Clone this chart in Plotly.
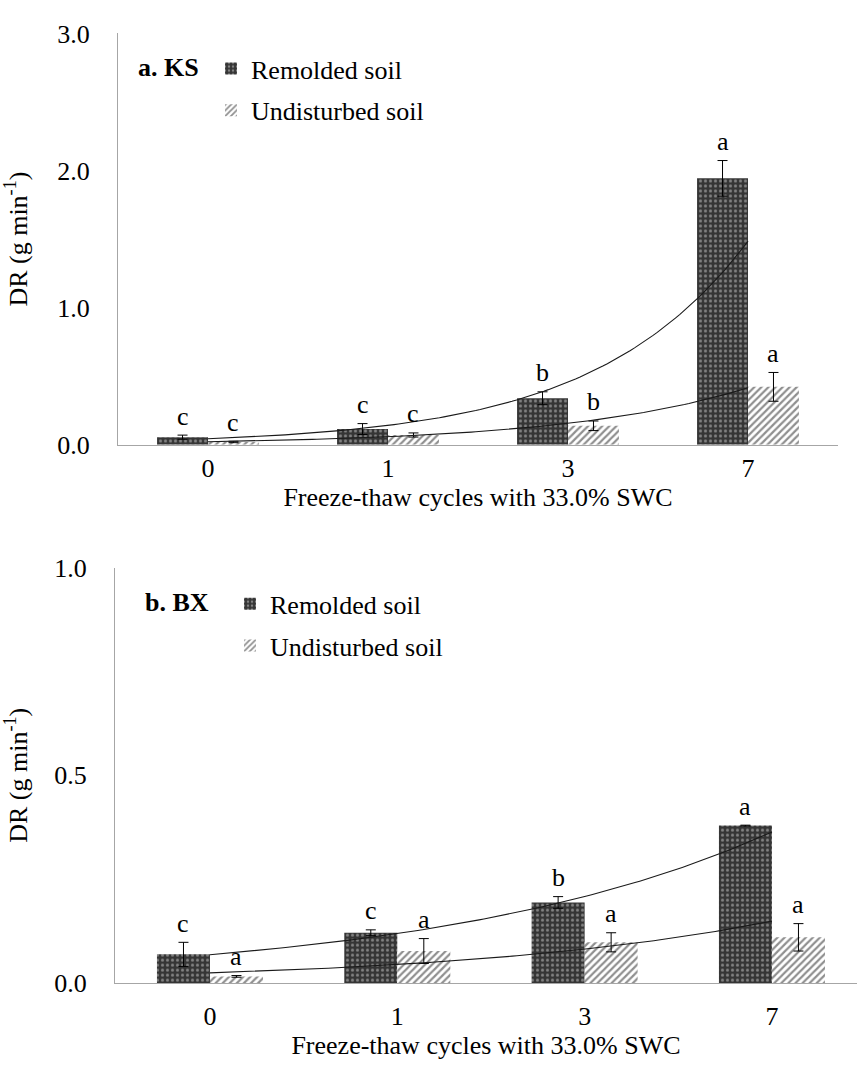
import numpy as np
import plotly.graph_objects as go

cycles = ["0", "1", "3", "7"]

# Panel a (KS)
ks_remolded = [0.055, 0.114, 0.339, 1.943]
ks_remolded_err = [0.015, 0.040, 0.047, 0.130]
ks_undisturbed = [0.020, 0.071, 0.138, 0.422]
ks_undisturbed_err = [0.005, 0.015, 0.035, 0.105]
ks_letters_rem = ["c", "c", "b", "a"]
ks_letters_und = ["c", "c", "b", "a"]

# Panel b (BX)
bx_remolded = [0.069, 0.121, 0.194, 0.379]
bx_remolded_err = [0.029, 0.007, 0.014, 0.001]
bx_undisturbed = [0.016, 0.077, 0.098, 0.110]
bx_undisturbed_err = [0.002, 0.030, 0.023, 0.033]
bx_letters_rem = ["c", "c", "b", "a"]
bx_letters_und = ["a", "a", "a", "a"]

FONT = "Liberation Serif"
FS = 26
pos = np.arange(len(cycles))
BAR_W = 0.283

rem_pattern = dict(shape=".", bgcolor="#353535", fgcolor="#cfcfcf", size=5, solidity=0.3)
und_pattern = dict(shape="/", bgcolor="white", fgcolor="#202020", size=5, solidity=0.45)

fig = go.Figure()


def exp_fit(vals):
    b, a = np.polyfit(pos, np.log(vals), 1)
    xs = np.linspace(pos[0], pos[-1], 120)
    return xs, np.exp(a + b * xs)


def add_panel(xa, ya, rem, rem_err, und, und_err, lg, tag):
    fig.add_trace(go.Bar(
        x=pos, y=rem, name="Remolded soil", xaxis=xa, yaxis=ya,
        marker=dict(color="#353535", pattern=rem_pattern, line=dict(width=0)),
        error_y=dict(type="data", array=rem_err, color="black", thickness=1, width=5),
        legend=lg, legendgroup=tag + "r", offsetgroup="r"))
    fig.add_trace(go.Bar(
        x=pos, y=und, name="Undisturbed soil", xaxis=xa, yaxis=ya,
        marker=dict(color="white", pattern=und_pattern, line=dict(width=0)),
        error_y=dict(type="data", array=und_err, color="black", thickness=1, width=5),
        legend=lg, legendgroup=tag + "u", offsetgroup="u"))
    for vals in (rem, und):
        xs, ys = exp_fit(vals)
        fig.add_trace(go.Scatter(x=xs, y=ys, mode="lines", xaxis=xa, yaxis=ya,
                                 line=dict(color="#1a1a1a", width=1.1),
                                 showlegend=False, hoverinfo="skip"))


add_panel("x", "y", ks_remolded, ks_remolded_err, ks_undisturbed, ks_undisturbed_err, "legend", "a")
add_panel("x2", "y2", bx_remolded, bx_remolded_err, bx_undisturbed, bx_undisturbed_err, "legend2", "b")

annotations = []


def add_letters(xref, yref, vals, errs, letters, shift):
    for p, v, e, t in zip(pos, vals, errs, letters):
        annotations.append(dict(x=p + shift, y=v + e, xref=xref, yref=yref, text=t,
                                showarrow=False, yshift=19, yanchor="middle", xanchor="center",
                                font=dict(family=FONT, size=FS, color="black")))


add_letters("x", "y", ks_remolded, ks_remolded_err, ks_letters_rem, -BAR_W / 2)
add_letters("x", "y", ks_undisturbed, ks_undisturbed_err, ks_letters_und, BAR_W / 2)
add_letters("x2", "y2", bx_remolded, bx_remolded_err, bx_letters_rem, -BAR_W / 2)
add_letters("x2", "y2", bx_undisturbed, bx_undisturbed_err, bx_letters_und, BAR_W / 2)

annotations.append(dict(x=168 / 857, y=1 - 55 / 1071, xref="paper", yref="paper", text="<b>a. KS</b>",
                        showarrow=False, xanchor="center", yanchor="middle",
                        font=dict(family=FONT, size=FS, color="black")))
annotations.append(dict(x=177 / 857, y=1 - 605 / 1071, xref="paper", yref="paper", text="<b>b. BX</b>",
                        showarrow=False, xanchor="center", yanchor="middle",
                        font=dict(family=FONT, size=FS, color="black")))

axis_font = dict(family=FONT, size=FS, color="black")
AX_LINE = "#a6a6a6"

xcommon = dict(tickmode="array", tickvals=pos, ticktext=cycles, showgrid=False, zeroline=False,
               showline=True, linecolor=AX_LINE, linewidth=1.3, ticks="", tickfont=axis_font)
ycommon = dict(showgrid=False, zeroline=False, showline=True, linecolor=AX_LINE, linewidth=1.3,
               ticks="", tickfont=axis_font, tickformat=".1f", ticklabelstandoff=22)

fig.update_layout(
    width=857, height=1071,
    margin=dict(l=0, r=0, t=0, b=0),
    paper_bgcolor="white", plot_bgcolor="white",
    barmode="group", bargap=0.434, bargroupgap=0,
    font=dict(family=FONT, size=FS, color="black"),
    xaxis=dict(xcommon, domain=[118 / 857, 838 / 857], range=[-0.5, 3.5], anchor="y",
               ticklabelstandoff=0,
               title=dict(text="Freeze-thaw cycles with 33.0% SWC", font=axis_font, standoff=2)),
    yaxis=dict(ycommon, domain=[1 - 442.7 / 1071, 1 - 20 / 1071], range=[0, 3], dtick=1.0,
               anchor="x",
               title=dict(text="DR (g min<sup>-1</sup>)", font=axis_font, standoff=22)),
    xaxis2=dict(xcommon, domain=[115 / 857, 1.0], range=[-0.507, 3.454], anchor="y2",
                ticklabelstandoff=10,
                title=dict(text="Freeze-thaw cycles with 33.0% SWC", font=axis_font, standoff=0)),
    yaxis2=dict(ycommon, domain=[1 - 996 / 1071, 1 - 569 / 1071], range=[0, 1], dtick=0.5,
                anchor="x2",
                title=dict(text="DR (g min<sup>-1</sup>)", font=axis_font, standoff=22)),
    legend=dict(x=211 / 857, y=1 - 32 / 1071, xanchor="left", yanchor="top",
                font=dict(family=FONT, size=FS, color="black"), bgcolor="rgba(0,0,0,0)",
                tracegroupgap=5, itemwidth=30),
    legend2=dict(x=230 / 857, y=1 - 582 / 1071, xanchor="left", yanchor="top",
                 font=dict(family=FONT, size=FS, color="black"), bgcolor="rgba(0,0,0,0)",
                 tracegroupgap=5, itemwidth=30),
    annotations=annotations,
    showlegend=True,
)

fig.write_html("out.html")
